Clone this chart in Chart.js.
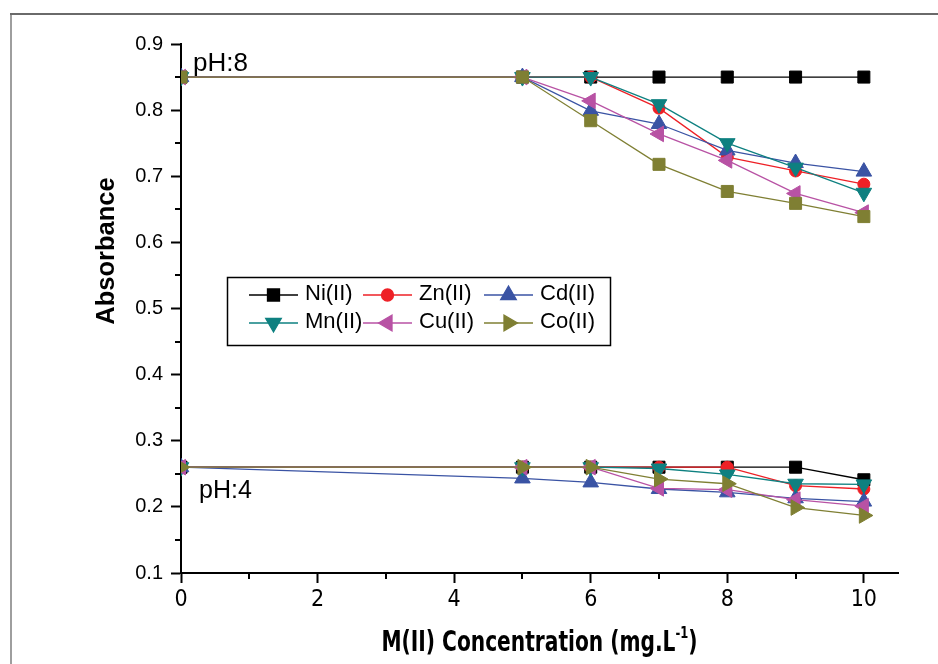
<!DOCTYPE html>
<html>
<head>
<meta charset="utf-8">
<script src="https://cdn.jsdelivr.net/npm/chart.js@4/dist/chart.umd.min.js"></script>
<style>
html,body{margin:0;padding:0;background:#fff;}
canvas{display:block;}
</style>
</head>
<body>
<canvas id="c" width="938" height="664"></canvas>
<script>
// ---------- data ----------
const concentrations = [0, 5, 6, 7, 8, 9, 10];
const seriesNames = ['Ni(II)', 'Zn(II)', 'Cd(II)', 'Mn(II)', 'Cu(II)', 'Co(II)'];

const niPH8 = [0.85, 0.85, 0.85, 0.85, 0.85, 0.85, 0.85];
const znPH8 = [0.85, 0.85, 0.85, 0.803, 0.729, 0.708, 0.688];
const cdPH8 = [0.85, 0.85, 0.799, 0.779, 0.739, 0.720, 0.707];
const mnPH8 = [0.85, 0.85, 0.85, 0.809, 0.750, 0.713, 0.675];
const cuPH8 = [0.85, 0.85, 0.814, 0.764, 0.724, 0.674, 0.645];
const coPH8 = [0.85, 0.85, 0.784, 0.718, 0.677, 0.659, 0.639];

const niPH4 = [0.26, 0.26, 0.26, 0.26, 0.26, 0.26, 0.241];
const znPH4 = [0.26, 0.26, 0.26, 0.26, 0.26, 0.232, 0.227];
const cdPH4 = [0.26, 0.243, 0.237, 0.227, 0.222, 0.213, 0.208];
const mnPH4 = [0.26, 0.26, 0.26, 0.258, 0.249, 0.235, 0.234];
const cuPH4 = [0.26, 0.26, 0.26, 0.228, 0.226, 0.211, 0.201];
const coPH4 = [0.26, 0.26, 0.26, 0.242, 0.235, 0.199, 0.187];

const xTickLabels = [0, 2, 4, 6, 8, 10];
const xMinorTicks = [1, 3, 5, 7, 9];
const yTickLabels = [0.1, 0.2, 0.3, 0.4, 0.5, 0.6, 0.7, 0.8, 0.9];
const yMinorTicks = [0.15, 0.25, 0.35, 0.45, 0.55, 0.65, 0.75, 0.85];

const xTitle = 'M(II) Concentration (mg.L';
const xTitleSup = '-1';
const xTitleEnd = ')';
const yTitle = 'Absorbance';
const phLabels = ['pH:8', 'pH:4'];

// ---------- styles ----------
const SANS = "'Liberation Sans', Arial, Helvetica, sans-serif";
const NARROW = "'Liberation Sans Narrow', 'Arial Narrow', 'DejaVu Sans Condensed', 'Liberation Sans', sans-serif";
const styles = [
  {color: '#000000', s8: 'rect', r8: 0, s4: 'rect', r4: 0},
  {color: '#ee2026', s8: 'circle', r8: 0, s4: 'circle', r4: 0},
  {color: '#3a53a4', s8: 'triangle', r8: 0, s4: 'triangle', r4: 0},
  {color: '#0e8080', s8: 'triangle', r8: 180, s4: 'triangle', r4: 180},
  {color: '#b852a4', s8: 'triangle', r8: 270, s4: 'triangle', r4: 270},
  {color: '#7f7f33', s8: 'rect', r8: 0, s4: 'triangle', r4: 90}
];
const legendStyles = [
  {s: 'rect', r: 0}, {s: 'circle', r: 0}, {s: 'triangle', r: 0},
  {s: 'triangle', r: 180}, {s: 'triangle', r: 270}, {s: 'triangle', r: 90}
];
function radiusFor(style) {
  if (style === 'rect') return 8.5;
  if (style === 'circle') return 6;
  return 9;
}

const ph8 = [niPH8, znPH8, cdPH8, mnPH8, cuPH8, coPH8];
const ph4 = [niPH4, znPH4, cdPH4, mnPH4, cuPH4, coPH4];
const n = concentrations.length;

const datasets = seriesNames.map((name, i) => {
  const st = styles[i];
  const data = concentrations.map((x, j) => ({x: x, y: ph8[i][j]}))
    .concat([{x: concentrations[n - 1], y: null}])
    .concat(concentrations.map((x, j) => ({x: x, y: ph4[i][j]})));
  return {
    label: name,
    data: data,
    borderColor: st.color,
    backgroundColor: st.color,
    pointBackgroundColor: st.color,
    pointBorderColor: st.color,
    borderWidth: 1.3,
    pointBorderWidth: 1,
    pointStyle: c => (c.dataIndex < n ? st.s8 : st.s4),
    pointRotation: c => (c.dataIndex < n ? st.r8 : st.r4),
    pointRadius: c => radiusFor(c.dataIndex < n ? st.s8 : st.s4),
    pointHoverRadius: c => radiusFor(c.dataIndex < n ? st.s8 : st.s4),
    tension: 0,
    spanGaps: false,
    order: seriesNames.length - i
  };
});

// ---------- decoration plugin ----------
const decor = {
  id: 'decor',
  beforeDraw(chart) {
    const ctx = chart.ctx;
    ctx.save();
    ctx.fillStyle = '#ffffff';
    ctx.fillRect(0, 0, chart.width, chart.height);
    ctx.strokeStyle = '#6a6a6a';
    ctx.lineWidth = 2;
    ctx.beginPath(); ctx.moveTo(10, 14); ctx.lineTo(chart.width, 14); ctx.stroke();
    ctx.lineWidth = 1.3;
    ctx.beginPath(); ctx.moveTo(11, 14); ctx.lineTo(11, chart.height); ctx.stroke();
    ctx.restore();
  },
  afterDraw(chart) {
    const ctx = chart.ctx;
    const xs = chart.scales.x, ys = chart.scales.y;
    const area = chart.chartArea;
    ctx.save();
    // minor ticks
    ctx.strokeStyle = '#000'; ctx.lineWidth = 2;
    ctx.beginPath();
    xMinorTicks.forEach(v => {
      const px = Math.round(xs.getPixelForValue(v));
      ctx.moveTo(px, area.bottom); ctx.lineTo(px, area.bottom + 6);
    });
    yMinorTicks.forEach(v => {
      const py = Math.round(ys.getPixelForValue(v));
      ctx.moveTo(area.left, py); ctx.lineTo(area.left - 6, py);
    });
    ctx.stroke();

    // pH labels
    ctx.fillStyle = '#000';
    ctx.textAlign = 'left'; ctx.textBaseline = 'alphabetic';
    ctx.font = '26px ' + SANS;
    ctx.fillText(phLabels[0], xs.getPixelForValue(0) + 12, ys.getPixelForValue(0.85) - 6);
    ctx.font = '25px ' + SANS;
    ctx.fillText(phLabels[1], xs.getPixelForValue(0) + 18, ys.getPixelForValue(0.26) + 31);

    // y title
    ctx.save();
    ctx.translate(107, 251);
    ctx.rotate(-Math.PI / 2);
    ctx.font = 'bold 25.5px ' + SANS;
    ctx.textAlign = 'center'; ctx.textBaseline = 'middle';
    ctx.fillText(yTitle, 0, 0);
    ctx.restore();

    // x title with superscript (condensed face)
    const mainFont = 'bold 28px ' + NARROW;
    const supFont = 'bold 16px ' + NARROW;
    ctx.font = mainFont;
    const w1 = ctx.measureText(xTitle).width;
    const w3 = ctx.measureText(xTitleEnd).width;
    ctx.font = supFont;
    const w2 = ctx.measureText(xTitleSup).width;
    const total = w1 + w2 + w3;
    const sx = 316 / total;
    const cx = (area.left + area.right) / 2;
    const base = 651;
    ctx.save();
    ctx.translate(cx, base);
    ctx.scale(sx, 1);
    let tx = -total / 2;
    ctx.textAlign = 'left'; ctx.textBaseline = 'alphabetic';
    ctx.font = mainFont; ctx.fillText(xTitle, tx, 0); tx += w1;
    ctx.font = supFont; ctx.fillText(xTitleSup, tx, -13); tx += w2;
    ctx.font = mainFont; ctx.fillText(xTitleEnd, tx, 0);
    ctx.restore();

    // legend
    const bx = 227, by = 277, bw = 383, bh = 68;
    ctx.fillStyle = '#fff';
    ctx.fillRect(bx, by, bw, bh);
    ctx.strokeStyle = '#000'; ctx.lineWidth = 1.5;
    ctx.strokeRect(bx + 0.5, by + 0.5, bw, bh);
    const colX = [249, 363, 484];
    const rowY = [295, 323];
    const lineLen = 49;
    chart.data.datasets.forEach((ds, i) => {
      const x0 = colX[i % 3], y0 = rowY[Math.floor(i / 3)];
      ctx.strokeStyle = ds.borderColor; ctx.lineWidth = 1.3;
      ctx.beginPath(); ctx.moveTo(x0, y0); ctx.lineTo(x0 + lineLen, y0); ctx.stroke();
      const ls = legendStyles[i];
      ctx.fillStyle = ds.borderColor; ctx.strokeStyle = ds.borderColor;
      Chart.helpers.drawPoint(ctx, {pointStyle: ls.s, rotation: ls.r, radius: radiusFor(ls.s), borderWidth: 1}, x0 + lineLen / 2, y0);
      ctx.fillStyle = '#000';
      ctx.font = '22px ' + SANS;
      ctx.textAlign = 'left'; ctx.textBaseline = 'middle';
      ctx.fillText(ds.label, x0 + 56, y0 - 1);
    });
    ctx.restore();
  }
};

new Chart(document.getElementById('c'), {
  type: 'line',
  data: {datasets: datasets},
  options: {
    responsive: false,
    animation: false,
    devicePixelRatio: 1,
    layout: {padding: {top: 44, right: 40, left: 0, bottom: 0}},
    plugins: {legend: {display: false}, tooltip: {enabled: false}, title: {display: false}},
    scales: {
      x: {
        type: 'linear', min: 0, max: 10.5,
        ticks: {
          stepSize: 2, includeBounds: false, color: '#000', padding: 3,
          font: {family: NARROW, size: 23},
          callback: v => (xTickLabels.includes(v) ? String(v) : '')
        },
        grid: {display: true, drawOnChartArea: false, drawTicks: true, tickLength: 10, tickWidth: 2, tickColor: '#000'},
        border: {display: true, color: '#000', width: 2},
        afterFit: s => { s.height = 91; }
      },
      y: {
        type: 'linear', min: 0.1, max: 0.9,
        ticks: {
          stepSize: 0.1, color: '#000', padding: 8,
          font: {family: SANS, size: 20},
          callback: v => {
            const r = Math.round(v * 10) / 10;
            return yTickLabels.includes(r) ? r.toFixed(1) : '';
          }
        },
        grid: {display: true, drawOnChartArea: false, drawTicks: true, tickLength: 10, tickWidth: 2, tickColor: '#000'},
        border: {display: true, color: '#000', width: 2},
        afterFit: s => { s.width = 181; }
      }
    }
  },
  plugins: [decor]
});
</script>
</body>
</html>
